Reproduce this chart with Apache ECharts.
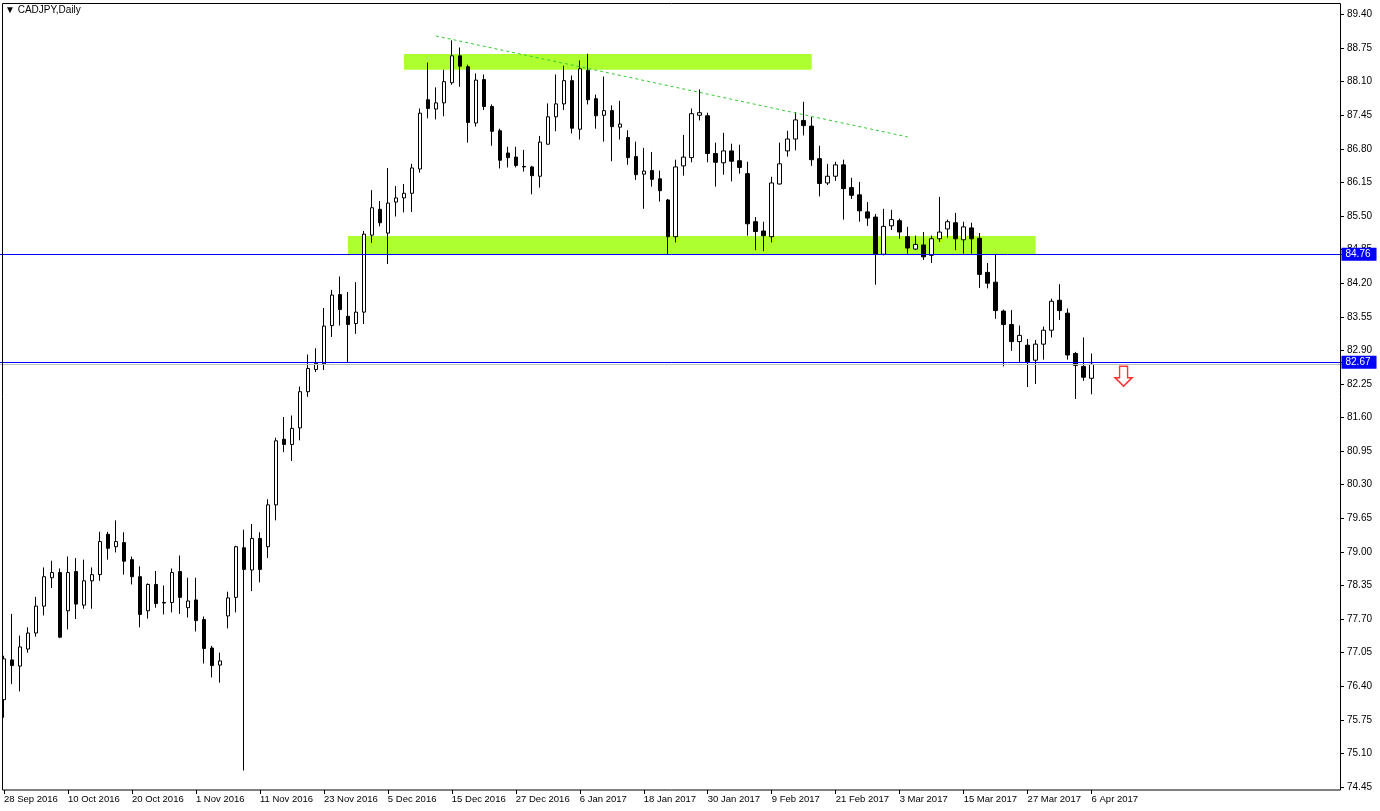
<!DOCTYPE html>
<html>
<head>
<meta charset="utf-8">
<title>CADJPY,Daily</title>
<script src="https://cdn.jsdelivr.net/npm/echarts@6/dist/echarts.min.js"></script>
<style>
  html, body { margin: 0; padding: 0; background: #fff; }
  #chart { width: 1380px; height: 811px; }
</style>
</head>
<body>
<div id="chart"></div>
<script>
  // daily bars, 28 Sep 2016 .. 6 Apr 2017 (weekdays)
  var opens = [
    76.14, 76.91, 76.79, 77.12, 77.43, 77.95, 78.50, 78.60, 77.86, 78.62,
    77.97, 78.44, 78.56, 79.34, 79.10, 79.18, 78.85, 78.52, 77.86, 78.37,
    78.02, 78.02, 78.62, 77.92, 78.07, 77.69, 77.14, 76.81, 77.76, 78.12,
    79.08, 78.65, 79.26, 79.10, 79.91, 81.18, 81.08, 81.40, 82.10, 82.53,
    82.64, 83.38, 83.98, 83.56, 83.42, 83.64, 85.13, 85.63, 85.17, 85.77,
    85.85, 85.94, 86.41, 87.75, 87.57, 87.69, 88.08, 88.60, 88.39, 87.30,
    88.14, 87.62, 87.15, 86.72, 86.64, 86.46, 86.45, 86.27, 86.89, 87.42,
    87.67, 88.12, 87.18, 88.32, 87.77, 87.45, 87.54, 87.22, 87.02, 86.65,
    86.31, 86.38, 86.22, 85.81, 85.10, 86.47, 86.63, 87.45, 87.44, 86.71,
    86.53, 86.76, 86.57, 86.32, 85.39, 85.21, 85.10, 86.12, 86.76, 86.99,
    87.35, 87.24, 86.61, 86.14, 86.27, 86.49, 86.05, 85.91, 85.58, 85.48,
    84.76, 85.31, 85.41, 85.10, 84.86, 84.94, 84.74, 85.06, 85.25, 85.37,
    85.04, 85.27, 85.07, 84.41, 84.22, 83.66, 83.40, 83.07, 83.00, 82.71,
    83.02, 83.29, 83.87, 83.62, 82.84, 82.59, 82.36
  ];
  var highs = [
    76.99, 77.80, 77.38, 77.54, 78.13, 78.70, 78.83, 78.68, 78.91, 78.88,
    78.85, 78.70, 79.39, 79.39, 79.61, 79.38, 78.91, 78.72, 78.39, 78.63,
    78.35, 78.68, 78.93, 78.50, 78.50, 77.75, 77.18, 77.05, 78.23, 79.12,
    79.43, 79.54, 79.38, 80.02, 81.21, 81.61, 81.64, 82.20, 82.82, 82.94,
    83.72, 84.07, 84.33, 84.03, 84.22, 85.21, 86.00, 85.79, 86.43, 86.08,
    86.12, 86.51, 87.58, 88.47, 87.99, 88.33, 88.90, 88.76, 88.43, 88.26,
    88.24, 87.66, 87.19, 86.84, 86.84, 86.78, 86.47, 87.05, 87.68, 88.24,
    88.41, 88.22, 88.51, 88.64, 87.85, 88.20, 87.64, 87.73, 87.16, 86.94,
    86.82, 86.74, 86.38, 85.83, 86.59, 87.07, 87.58, 87.95, 87.50, 86.92,
    87.11, 86.90, 86.88, 86.55, 85.48, 85.39, 86.26, 86.92, 87.15, 87.51,
    87.71, 87.42, 86.86, 86.51, 86.55, 86.59, 86.24, 86.16, 85.77, 85.54,
    85.64, 85.62, 85.45, 85.29, 85.12, 85.19, 85.12, 85.87, 85.43, 85.56,
    85.39, 85.37, 85.17, 84.59, 84.76, 83.69, 83.68, 83.38, 83.12, 83.10,
    83.36, 83.90, 84.18, 83.71, 82.87, 83.15, 82.84
  ];
  var lows = [
    75.79, 76.44, 76.30, 77.05, 77.36, 77.77, 78.30, 77.33, 77.50, 77.70,
    77.90, 77.90, 78.44, 78.85, 78.99, 78.56, 78.37, 77.54, 77.71, 77.92,
    77.79, 77.83, 77.80, 77.73, 77.46, 76.84, 76.57, 76.47, 77.52, 77.83,
    74.77, 78.24, 78.41, 78.88, 79.61, 80.93, 80.76, 81.16, 82.00, 82.48,
    82.52, 83.16, 83.38, 82.67, 83.22, 83.41, 84.98, 85.30, 84.57, 85.49,
    85.57, 85.58, 86.34, 87.39, 87.37, 87.43, 88.04, 88.00, 86.92, 87.23,
    87.55, 86.86, 86.42, 86.44, 86.44, 86.36, 85.92, 86.05, 86.88, 87.14,
    87.55, 87.10, 86.98, 87.66, 87.19, 86.94, 86.56, 86.98, 86.49, 86.20,
    85.64, 86.07, 85.78, 84.75, 84.99, 86.28, 86.54, 87.35, 86.54, 86.07,
    86.30, 86.17, 86.32, 85.12, 84.84, 84.82, 84.99, 86.11, 86.65, 86.77,
    87.06, 86.47, 85.88, 86.10, 86.18, 85.43, 85.83, 85.39, 85.31, 84.17,
    84.74, 85.23, 85.06, 84.77, 84.84, 84.65, 84.59, 85.00, 85.08, 84.84,
    84.77, 84.77, 84.11, 84.10, 83.51, 82.59, 82.89, 82.66, 82.19, 82.25,
    82.72, 83.15, 83.49, 82.72, 81.96, 82.31, 82.05
  ];
  var closes = [
    76.93, 76.80, 77.16, 77.43, 77.95, 78.52, 78.60, 77.35, 78.60, 77.99,
    78.44, 78.56, 79.20, 79.07, 79.20, 78.82, 78.52, 77.79, 78.37, 78.00,
    78.01, 78.60, 78.12, 78.05, 77.67, 77.13, 76.80, 76.89, 78.11, 79.10,
    78.66, 79.26, 78.66, 79.91, 81.15, 81.08, 81.39, 82.10, 82.55, 82.65,
    83.37, 83.97, 83.69, 83.40, 83.64, 85.15, 85.66, 85.37, 85.75, 85.85,
    85.94, 86.43, 87.49, 87.58, 87.69, 88.10, 88.60, 88.40, 87.31, 88.13,
    87.62, 87.14, 86.58, 86.63, 86.48, 86.45, 86.28, 86.93, 87.42, 87.67,
    88.12, 87.20, 88.35, 87.75, 87.44, 87.54, 87.23, 87.28, 86.63, 86.30,
    86.37, 86.21, 85.99, 85.10, 86.45, 86.64, 87.48, 87.50, 86.71, 86.54,
    86.76, 86.56, 86.44, 85.35, 85.20, 85.12, 86.14, 86.51, 86.99, 87.36,
    87.25, 86.59, 86.13, 86.27, 86.49, 86.03, 85.90, 85.60, 85.46, 84.77,
    85.30, 85.43, 85.19, 84.88, 84.95, 84.71, 85.06, 85.19, 85.39, 85.06,
    85.29, 85.06, 84.37, 84.20, 83.67, 83.40, 83.07, 83.19, 82.67, 83.02,
    83.29, 83.85, 83.67, 82.81, 82.61, 82.38, 82.63
  ];

  // price levels and drawn objects
  var levelLines = [84.76, 82.67];
  var bidLine = 82.63;
  var zoneTop = [[50, 88.636], [101, 88.332]];      // [bar index, price]
  var zoneBottom = [[43, 85.114], [129, 84.76]];
  var trendLine = [[54, 88.985], [113, 87.03]];
  var arrowPoint = [140, 82.40];

  var months = ['Jan','Feb','Mar','Apr','May','Jun','Jul','Aug','Sep','Oct','Nov','Dec'];
  var dates = [];
  var d = new Date(2016, 8, 28);
  while (dates.length < opens.length) {
    var wd = d.getDay();
    if (wd !== 0 && wd !== 6) {
      dates.push(d.getDate() + ' ' + months[d.getMonth()] + ' ' + d.getFullYear());
    }
    d.setDate(d.getDate() + 1);
  }
  // empty space on the right of the last bar
  var cats = dates.slice();
  while (cats.length < 168) cats.push('');

  var candles = [];
  for (var i = 0; i < opens.length; i++) {
    candles.push([opens[i], closes[i], lows[i], highs[i]]);
  }

  var font = 'Liberation Sans, Arial, sans-serif';
  var showEvery8 = function (idx, val) { return val !== '' && idx % 8 === 0; };

  var priceBox = function (txt) {
    return { show: true, position: 'end', distance: -2, formatter: txt, color: '#fff',
      backgroundColor: '#0000ff', padding: [2, 6, 1, 4], fontSize: 10, fontFamily: font };
  };

  var myChart = echarts.init(document.getElementById('chart'));
  var option = {
    animation: false,
    backgroundColor: '#fff',
    title: {
      text: '\u25BC CADJPY,Daily',
      left: 5,
      top: 5,
      padding: 0,
      textStyle: { fontSize: 10, fontWeight: 'normal', color: '#000', fontFamily: font }
    },
    grid: { left: -0.5, right: 36.5, top: 14.5, bottom: 24 },
    xAxis: {
      type: 'category',
      data: cats,
      boundaryGap: true,
      offset: 3,
      axisLine: { show: false },
      axisTick: { show: true, interval: showEvery8, alignWithLabel: true, length: 4, lineStyle: { color: '#000' } },
      axisLabel: { interval: showEvery8, align: 'left', margin: 4, padding: [0, 0, 0, 0],
        fontSize: 9.5, color: '#000', fontFamily: font },
      splitLine: { show: false }
    },
    yAxis: {
      type: 'value',
      position: 'right',
      min: 74.45,
      max: 89.40,
      interval: 0.65,
      offset: -2.5,
      axisLine: { show: false },
      axisTick: { show: true, length: 3, lineStyle: { color: '#000' } },
      axisLabel: { margin: 6, fontSize: 10, color: '#000', fontFamily: font,
        formatter: function (v) { return v.toFixed(2); } },
      splitLine: { show: false }
    },
    graphic: [{
      type: 'rect',
      silent: true,
      z: 100,
      shape: { x: 2.5, y: 3.5, width: 1338, height: 786.5 },
      style: { fill: 'none', stroke: '#000', lineWidth: 1 }
    }],
    series: [
      {
        // support / resistance zones
        type: 'line',
        data: [],
        z: 1,
        markArea: {
          silent: true,
          itemStyle: { color: '#adff2f', opacity: 1 },
          data: [
            [{ coord: zoneTop[0] }, { coord: zoneTop[1] }],
            [{ coord: zoneBottom[0] }, { coord: zoneBottom[1] }]
          ]
        }
      },
      {
        name: 'CADJPY',
        type: 'candlestick',
        data: candles,
        barWidth: 4,
        z: 3,
        itemStyle: {
          color: '#fff',
          color0: '#000',
          borderColor: '#000',
          borderColor0: '#000',
          borderColorDoji: '#000',
          borderWidth: 1
        },
        markLine: {
          silent: true,
          symbol: 'none',
          animation: false,
          data: [
            { yAxis: bidLine, lineStyle: { color: '#c0c0c0', width: 1, type: 'solid' }, label: { show: false } },
            { yAxis: levelLines[0], lineStyle: { color: '#0000ff', width: 1, type: 'solid' }, label: priceBox('84.76') },
            { yAxis: levelLines[1], lineStyle: { color: '#0000ff', width: 1, type: 'solid' }, label: priceBox('82.67') },
            [
              { coord: trendLine[0], lineStyle: { color: '#32cd32', width: 1, type: [3, 3] }, label: { show: false } },
              { coord: trendLine[1] }
            ]
          ]
        }
      },
      {
        // sell arrow
        type: 'scatter',
        data: [arrowPoint],
        z: 4,
        symbol: 'path://M4.5,0 L12.5,0 L12.5,11.5 L17,11.5 L8.5,20 L0,11.5 L4.5,11.5 Z',
        symbolSize: [17, 20],
        itemStyle: { color: '#fff', borderColor: '#ff0000', borderWidth: 1.5 }
      }
    ]
  };

  myChart.setOption(option);
</script>
</body>
</html>
